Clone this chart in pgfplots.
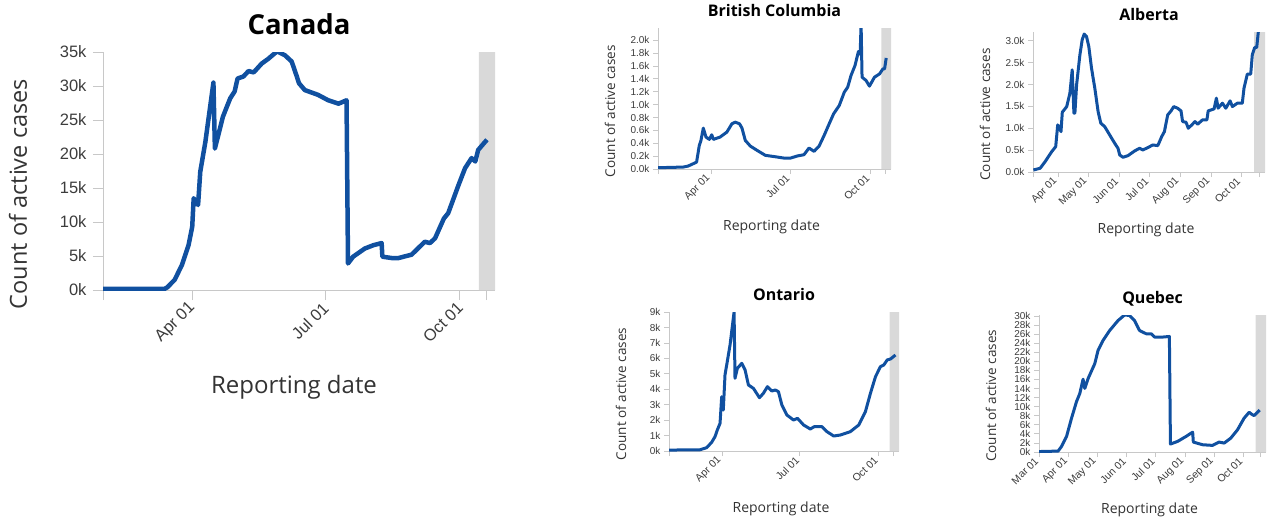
\documentclass[border=0pt]{standalone}
\usepackage{fontspec}
\setmainfont{Open Sans}
\newfontfamily\arial{Liberation Sans}
\usepackage{pgfplots}
\pgfplotsset{compat=1.18}

\definecolor{linecol}{RGB}{16,80,160}
\definecolor{axgray}{RGB}{200,200,200}
\definecolor{bandgray}{RGB}{217,217,217}
\definecolor{labgray}{RGB}{60,60,60}

\pgfplotsset{
  panel/.style={
    scale only axis,
    axis x line*=bottom, axis y line*=left,
    axis line style={draw=axgray, line width=0.8pt},
    tick style={draw=axgray, line width=0.8pt},
    tick align=outside,
    minor tick num=0,
    scaled y ticks=false,
    /pgf/number format/assume math mode=true,
    ticklabel style={text=labgray},
    xticklabel style={rotate=45, anchor=east},
    label style={text=black!80},
    extra x tick labels={},
    extra x tick style={tick align=outside},
  },
  big/.style={
    panel,
    major tick length=10pt,
    ticklabel style={font=\arial\fontsize{16.5}{16.5}\selectfont},
    yticklabel style={xshift=-3pt},
    xticklabel style={yshift=-4pt},
    title style={font=\bfseries\fontsize{27.5}{27.5}\selectfont, inner sep=0pt, anchor=base,
      at={([yshift=12pt]axis description cs:0.5,1)}},
    xlabel style={font=\fontsize{24}{24}\selectfont, inner sep=0pt, anchor=base,
      at={([xshift=-5pt,yshift=-103pt]axis description cs:0.5,0)}},
    ylabel style={font=\fontsize{23.5}{23.5}\selectfont, inner sep=0pt, anchor=base,
      at={([xshift=-76pt]axis description cs:0,0.403)}},
  },
  small/.style={
    panel,
    major tick length=5pt,
    ticklabel style={font=\arial\fontsize{10}{10}\selectfont},
    xticklabel style={font=\arial\fontsize{10.5}{10.5}\selectfont},
    title style={font=\bfseries\fontsize{16}{16}\selectfont, inner sep=0pt, anchor=base,
      at={([yshift=6pt]axis description cs:0.5,1)}},
    xlabel style={font=\fontsize{14}{14}\selectfont, inner sep=0pt, anchor=base,
      at={([xshift=-3pt,yshift=-61pt]axis description cs:0.5,0)}},
    ylabel style={font=\fontsize{13.5}{13.5}\selectfont, inner sep=0pt, anchor=base,
      at={([xshift=-43pt]axis description cs:0,0.41)}},
  },
}

\begin{document}
\begin{tikzpicture}
\path[use as bounding box] (0,0) rectangle (1270pt,-517pt);

% days counted from Mar 01 2020
\begin{axis}[big, at={(103pt,-290pt)}, anchor=south west,
  width=392pt, height=238pt,
  xmin=-30, xmax=238, ymin=0, ymax=35000,
  xtick={31,122,214}, xticklabels={Apr 01,Jul 01,Oct 01},
  extra x ticks={-30,232},
  ytick={0,5000,...,35000}, yticklabels={0k,5k,10k,15k,20k,25k,30k,35k},
  title={Canada}, xlabel={Reporting date}, ylabel={Count of active cases}]
\addplot[fill=bandgray, draw=none] coordinates {(227,0)(227,35000)(238,35000)(238,0)} \closedcycle;
\addplot[linecol, line width=4.5pt, line join=round] coordinates {
(-30,150)(12,150)(14,400)(19,1500)(24,3700)(28.5,6600)(31,9300)(32,13500)(35,12500)
(36.5,17400)(40,21800)(45.5,30500)(46.5,20800)(52,25500)(57,28200)(60,29200)(62,31100)
(66,31400)(69.5,32200)(73,32000)(78.5,33300)(83,34000)(89,35100)(94.5,34500)(99,33600)
(102.5,31400)(104,30400)(108,29400)(117,28700)(124,27900)(131,27400)(136.5,27900)
(137.5,3900)(141,4900)(149,6100)(155,6600)(160.5,6900)(161,4900)(167.5,4700)(172,4700)
(181,5200)(190,7100)(193.5,6900)(197,7600)(203,10500)(206,11300)(213,15400)(217.5,17900)
(222,19400)(224.5,18900)(226.5,20600)(232.5,22100)};
\end{axis}

\begin{axis}[small, at={(658pt,-169pt)}, anchor=south west,
  width=233pt, height=141pt,
  xmin=-30, xmax=238, ymin=0, ymax=2190,
  xtick={31,122,214}, xticklabels={Apr 01,Jul 01,Oct 01},
  extra x ticks={-30,232},
  ytick={0,200,...,2000}, yticklabels={0.0k,0.2k,0.4k,0.6k,0.8k,1.0k,1.2k,1.4k,1.6k,1.8k,2.0k},
  title={British Columbia}, xlabel={Reporting date}, ylabel={Count of active cases}]
\addplot[fill=bandgray, draw=none] coordinates {(227,0)(227,2190)(238,2190)(238,0)} \closedcycle;
\addplot[linecol, line width=3pt, line join=round] coordinates {
(-30,20)(-1,30)(4.7,46)(10.5,82)(14.4,108)(17.5,367)(19.4,444)(22.1,635)(25.2,496)(29,460)
(31.8,532)(33.7,460)(41.4,496)(49.2,573)(55,702)(58.8,728)(63.8,702)(66.6,635)(70.4,444)
(76.2,356)(83.9,290)(93.5,212)(107,186)(114.7,170)(122.5,170)(130.2,202)(137.9,222)
(143.7,326)(149.5,274)(155.3,356)(161.1,522)(166.9,702)(172,857)(178.5,987)(184.3,1194)
(188.2,1271)(192,1452)(196.6,1607)(200.5,1824)(202.5,1780)(203.6,2250)(204.7,1426)
(209.3,1375)(213.2,1287)(219,1426)(224.8,1477)(228.7,1555)(230.6,1555)(232.5,1725)};
\end{axis}

\begin{axis}[small, at={(1033pt,-172pt)}, anchor=south west,
  width=232pt, height=140pt,
  xmin=6, xmax=238, ymin=0, ymax=3200,
  xtick={31,61,92,122,153,184,214},
  xticklabels={Apr 01,May 01,Jun 01,Jul 01,Aug 01,Sep 01,Oct 01},
  extra x ticks={6,232},
  ytick={0,500,...,3000}, yticklabels={0.0k,0.5k,1.0k,1.5k,2.0k,2.5k,3.0k},
  title={Alberta}, xlabel={Reporting date}, ylabel={Count of active cases}]
\addplot[fill=bandgray, draw=none] coordinates {(227,0)(227,3200)(238,3200)(238,0)} \closedcycle;
\addplot[linecol, line width=3pt, line join=round] coordinates {
(6.4,46)(13.1,85)(18.1,236)(24.7,465)(28.7,580)(30.7,1076)(34,923)(35.3,1367)(39.7,1495)
(42.9,1802)(45.2,2336)(46.9,1344)(47.9,1344)(49.6,1992)(52.9,2679)(55.2,3023)(57.2,3153)
(59.5,3098)(61.8,2869)(64.5,2375)(67.8,1917)(71.1,1381)(73.8,1115)(77.7,1037)(82.7,847)
(87.7,657)(91,543)(92.7,389)(96,337)(100.9,373)(107.6,481)(112.6,543)(115.8,504)(120.8,557)
(125.8,618)(130.8,603)(134.7,809)(137.4,923)(140.7,1305)(144.1,1397)(146.7,1495)(150.6,1458)
(154,1397)(155.6,1152)(159,1138)(161.3,1000)(164,1060)(168,1152)(170.6,1092)(175.5,1191)
(179.9,1191)(181.2,1397)(187.1,1443)(189.4,1688)(191.1,1458)(195.4,1573)(198.8,1458)
(203.1,1626)(205.4,1495)(210.3,1573)(215.3,1573)(217,1917)(220.3,2237)(223.7,2237)
(225.3,2679)(227.7,2846)(229.7,2846)(231.3,3200)};
\end{axis}

\begin{axis}[small, at={(669pt,-451pt)}, anchor=south west,
  width=230pt, height=139pt,
  xmin=-31, xmax=238, ymin=0, ymax=9000,
  xtick={31,122,214}, xticklabels={Apr 01,Jul 01,Oct 01},
  extra x ticks={-31,232},
  ytick={0,1000,...,9000}, yticklabels={0k,1k,2k,3k,4k,5k,6k,7k,8k,9k},
  title={Ontario}, xlabel={Reporting date}, ylabel={Count of active cases}]
\addplot[fill=bandgray, draw=none] coordinates {(227,0)(227,9000)(238,9000)(238,0)} \closedcycle;
\addplot[linecol, line width=3pt, line join=round] coordinates {
(-31,60)(5.2,80)(13,214)(18.9,563)(22.8,926)(25.5,1360)(28.7,1793)(30.6,3516)(32.5,2655)
(34.5,4921)(40.4,6864)(45.1,9000)(46.2,4707)(49,5355)(54.1,5679)(58,5245)(61.9,4274)
(67.7,4059)(74.8,3451)(79.4,3736)(84.1,4166)(89.3,3885)(93.2,3950)(97,3843)(101,2979)
(106.9,2331)(114.6,2007)(119.3,2115)(126.4,1684)(134.2,1425)(138.9,1576)(147.9,1576)
(153.8,1252)(161.6,971)(169.4,1036)(181.1,1252)(190.9,1684)(198.7,2547)(204.6,3736)
(210.5,4813)(216.3,5463)(220.2,5571)(224.2,5895)(228.1,5960)(233.9,6216)};
\end{axis}

\begin{axis}[small, at={(1039pt,-452pt)}, anchor=south west,
  width=227pt, height=137pt,
  xmin=0, xmax=238, ymin=0, ymax=30200,
  xtick={0,31,61,92,122,153,184,214},
  xticklabels={Mar 01,Apr 01,May 01,Jun 01,Jul 01,Aug 01,Sep 01,Oct 01},
  extra x ticks={232},
  ytick={0,2000,...,30000},
  yticklabels={0k,2k,4k,6k,8k,10k,12k,14k,16k,18k,20k,22k,24k,26k,28k,30k},
  title={Quebec}, xlabel={Reporting date}, ylabel={Count of active cases}]
\addplot[fill=bandgray, draw=none] coordinates {(227,0)(227,30200)(238,30200)(238,0)} \closedcycle;
\addplot[linecol, line width=3pt, line join=round] coordinates {
(0,100)(20,200)(23.7,1248)(28.9,3438)(34.1,7446)(39.3,11100)(42.8,12920)(46.2,16050)
(48,14020)(51.5,16200)(58.5,19490)(61.9,22400)(67.1,24590)(74.1,26780)(82.8,28970)
(89.8,30220)(95,30070)(100.2,28970)(105.4,26780)(112.4,26060)(117.6,26060)(121.1,25340)
(129.8,25340)(136.7,25470)(137.8,1752)(145.4,2343)(154.2,3438)(161.1,4380)(161.8,2190)
(171.5,1600)(181.9,1460)(188.9,2190)(194.2,1970)(201.1,3066)(208.1,4890)(215,7446)
(220.3,8760)(223,8320)(225.5,8030)(231.4,9260)};
\end{axis}
\end{tikzpicture}
\end{document}
